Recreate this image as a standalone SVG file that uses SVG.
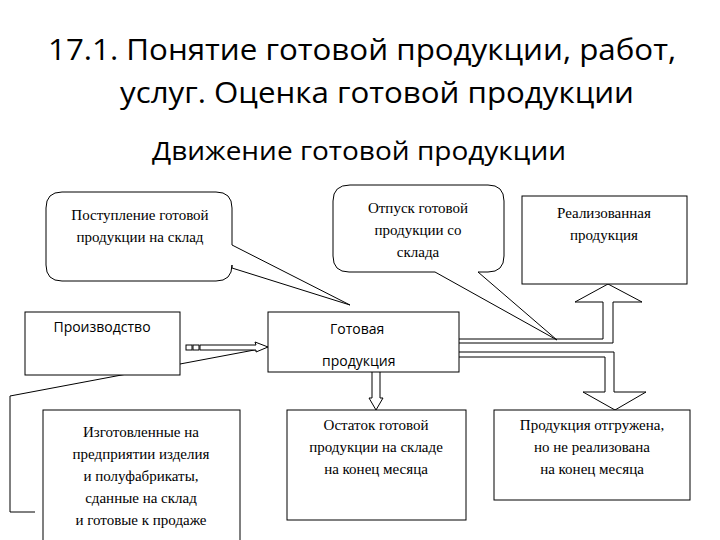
<svg xmlns="http://www.w3.org/2000/svg" width="720" height="540" viewBox="0 0 720 540">
<style>
.t{font-family:"Open Sans","Liberation Sans",sans-serif;fill:#000}
.s{font-family:"Liberation Serif",serif;font-size:15px;text-anchor:middle;fill:#000}
.b{fill:#fff;stroke:#000;stroke-width:1}
.l{fill:none;stroke:#000;stroke-width:1}
</style>
<rect width="720" height="540" fill="#fff"/>
<text class="t" x="48" y="60" font-size="29" textLength="628" lengthAdjust="spacingAndGlyphs">17.1. Понятие готовой продукции, работ,</text>
<text class="t" x="120" y="103" font-size="29" textLength="514" lengthAdjust="spacingAndGlyphs">услуг. Оценка готовой продукции</text>
<text class="t" x="152" y="160" font-size="25" textLength="414" lengthAdjust="spacingAndGlyphs">Движение готовой продукции</text>

<g id="connectors">
<path class="l" d="M265,348 L10,396 L10,512 L35,512"/>
<rect class="b" x="186" y="345" width="6" height="5"/>
<rect class="b" x="193" y="345" width="6" height="5"/>
<path class="b" d="M200,345 L256,345 L255,342 L268,347 L256,352 L256,350 L200,350 Z"/>
<path class="l" d="M459,339 H603 V302 H575 L608,284 L642,302 H613 V343 H459"/>
<path class="l" d="M459,352 H614 V392 H646 L615,410 L583,392 H605 V357 H459"/>
<path class="b" d="M372,372 V398 H369 L376,410 L383,398 H380 V372"/>
</g>

<g id="callout1">
<path class="b" d="M62,192 H216 Q232,192 232,208 V245 L350,305 L232,268 V265 Q232,281 216,281 H62 Q46,281 46,265 V208 Q46,192 62,192 Z"/>
<text class="s" x="140" y="220">Поступление готовой</text>
<text class="s" x="140" y="242">продукции на склад</text>
</g>
<g id="callout2">
<path class="b" d="M350,185 H488 Q504,185 504,201 V256 Q504,272 488,272 H478 L557,340 L435,272 H349 Q333,272 333,256 V201 Q333,185 350,185 Z"/>
<text class="s" x="418" y="213">Отпуск готовой</text>
<text class="s" x="418" y="235">продукции со</text>
<text class="s" x="418" y="257">склада</text>
</g>
<g id="realized">
<rect class="b" x="522" y="196" width="165" height="88"/>
<text class="s" x="604" y="218">Реализованная</text>
<text class="s" x="604" y="240">продукция</text>
</g>
<g id="production">
<rect class="b" x="25" y="312" width="155" height="63"/>
<text class="t" x="102" y="332" font-size="14" text-anchor="middle">Производство</text>
</g>
<g id="finished">
<rect class="b" x="268" y="312" width="191" height="60"/>
<text class="t" x="330" y="334" font-size="14">Готовая</text>
<text class="t" x="322" y="366" font-size="14">продукция</text>
</g>
<g id="made">
<rect class="b" x="43" y="410" width="197" height="140"/>
<text class="s" x="141" y="437">Изготовленные на</text>
<text class="s" x="141" y="459">предприятии изделия</text>
<text class="s" x="141" y="481">и полуфабрикаты,</text>
<text class="s" x="141" y="503">сданные на склад</text>
<text class="s" x="141" y="525">и готовые к продаже</text>
</g>
<g id="rest">
<rect class="b" x="287" y="410" width="179" height="110"/>
<text class="s" x="376" y="430">Остаток готовой</text>
<text class="s" x="376" y="452">продукции на складе</text>
<text class="s" x="376" y="474">на конец месяца</text>
</g>
<g id="shipped">
<rect class="b" x="494" y="410" width="196" height="90"/>
<text class="s" x="592" y="430">Продукция отгружена,</text>
<text class="s" x="592" y="452">но не реализована</text>
<text class="s" x="592" y="474">на конец месяца</text>
</g>
</svg>
